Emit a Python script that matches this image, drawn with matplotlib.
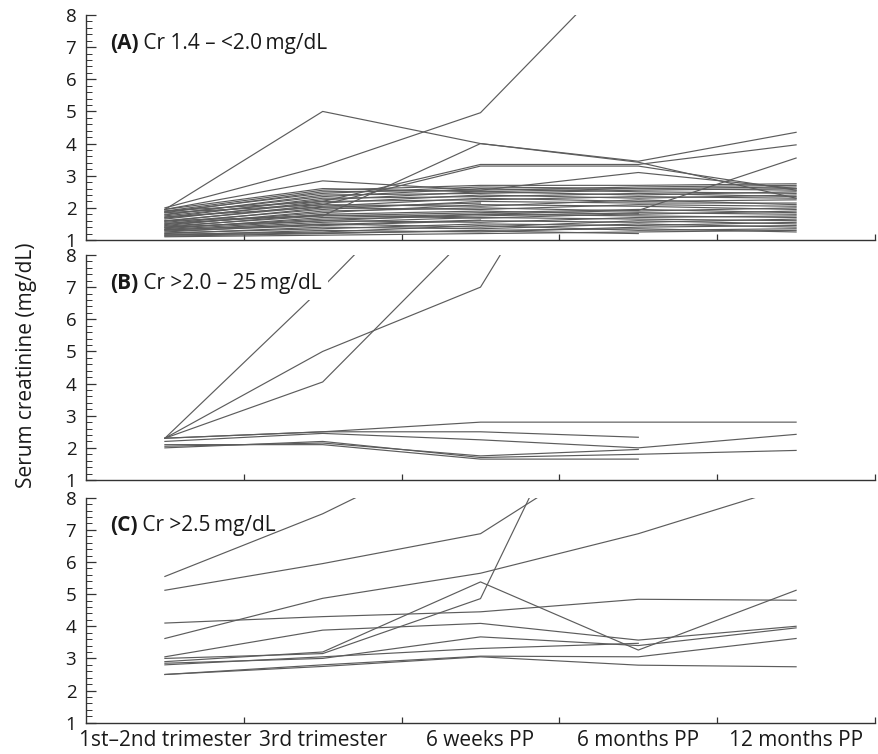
import numpy as np
import matplotlib
matplotlib.use("Agg")
import matplotlib.pyplot as plt

plt.rcParams['font.family'] = ['Open Sans', 'DejaVu Sans']

nan = np.nan
timepoints = ["1st\u20132nd trimester", "3rd trimester", "6 weeks PP", "6 months PP", "12 months PP"]

# Panel A: Cr 1.4 - <2.0 mg/dL (distinct trajectories)
panel_a_main = [
    [1.95, 5.00, 4.00, 3.45, 4.35],
    [2.00, 3.30, 4.96, 10.0, nan],
    [1.60, 1.75, 4.00, 3.42, 2.30],
    [1.90, 2.20, 3.35, 3.35, 3.96],
    [1.85, 2.10, 3.30, 3.30, 2.55],
    [1.95, 2.84, 2.55, 3.10, 2.60],
    [1.40, 1.60, 1.80, 1.92, 3.55],
]
# Panel A: dense bundle of low trajectories
panel_a_bundle = [
    [1.10, 1.15, 1.20, 1.25, 1.30],
    [1.12, 1.20, 1.30, 1.35, 1.25],
    [1.15, 1.30, 1.25, 1.40, 1.45],
    [1.18, 1.25, 1.45, 1.30, 1.35],
    [1.20, 1.40, 1.35, 1.50, 1.40],
    [1.22, 1.35, 1.50, 1.45, 1.55],
    [1.25, 1.50, 1.40, 1.60, 1.50],
    [1.28, 1.45, 1.60, 1.55, 1.65],
    [1.30, 1.55, 1.70, 1.65, 1.60],
    [1.33, 1.60, 1.55, 1.70, 1.75],
    [1.35, 1.70, 1.80, 1.75, 1.70],
    [1.38, 1.65, 1.75, 1.85, 1.80],
    [1.40, 1.80, 1.90, 1.80, 1.90],
    [1.43, 1.75, 1.85, 1.95, 1.85],
    [1.45, 1.90, 2.00, 1.90, 2.00],
    [1.48, 1.85, 2.10, 2.05, 1.95],
    [1.50, 2.00, 1.95, 2.10, 2.05],
    [1.55, 1.95, 2.20, 2.15, 2.15],
    [1.58, 2.10, 2.05, 2.25, 2.10],
    [1.60, 2.05, 2.30, 2.20, 2.25],
    [1.65, 2.20, 2.25, 2.35, 2.30],
    [1.68, 2.15, 2.40, 2.30, 2.40],
    [1.70, 2.30, 2.35, 2.45, 2.35],
    [1.75, 2.25, 2.50, 2.40, 2.50],
    [1.78, 2.40, 2.45, 2.55, 2.60],
    [1.80, 2.35, 2.60, 2.50, 2.45],
    [1.85, 2.50, 2.55, 2.65, 2.70],
    [1.88, 2.45, 2.65, 2.60, 2.55],
    [1.90, 2.55, 2.70, 2.70, 2.75],
    [1.95, 2.60, 2.50, 2.60, 2.65],
    [1.15, 1.22, 1.28, 1.20, nan],
    [1.32, 1.48, 1.62, nan, nan],
    [1.52, 1.78, 1.68, 1.82, nan],
    [1.72, 2.02, 2.15, nan, nan],
]

# Panel B: Cr >2.0 - 2.5 mg/dL
panel_b = [
    [2.30, 7.00, 12.0, nan, nan],
    [2.30, 5.00, 7.00, 15.0, nan],
    [2.30, 4.05, 9.00, nan, nan],
    [2.30, 2.50, 2.80, 2.80, 2.80],
    [2.30, 2.50, 2.50, 2.33, nan],
    [2.20, 2.45, 2.25, 2.00, 2.42],
    [2.05, 2.15, 1.75, 1.95, nan],
    [2.10, 2.10, 1.65, 1.65, nan],
    [2.00, 2.20, 1.70, 1.80, 1.92],
]

# Panel C: Cr >2.5 mg/dL
panel_c = [
    [5.55, 7.50, 9.90, nan, nan],
    [5.12, 5.95, 6.88, 10.0, nan],
    [3.62, 4.87, 5.65, 6.88, 8.40],
    [4.10, 4.30, 4.45, 4.84, 4.81],
    [2.90, 3.20, 5.38, 3.26, 5.12],
    [3.00, 3.15, 4.86, 15.0, nan],
    [3.05, 3.88, 4.09, 3.57, 4.00],
    [2.85, 3.00, 3.67, 3.40, 3.95],
    [2.80, 3.05, 3.31, 3.47, nan],
    [2.50, 2.80, 3.07, 3.05, 3.62],
    [2.50, 2.75, 3.05, 2.79, 2.74],
]

titles = [("(A)", " Cr 1.4 \u2013 <2.0\u2009mg/dL"),
          ("(B)", " Cr >2.0 \u2013 25\u2009mg/dL"),
          ("(C)", " Cr >2.5\u2009mg/dL")]

fig = plt.figure(figsize=(8.79, 7.54), dpi=100)
left, width, height = 86 / 879, 789 / 879, 225 / 754
bottoms = [(754 - 240) / 754, (754 - 480) / 754, (754 - 722.7) / 754]

x = np.arange(len(timepoints)) + 0.5
line_color = '#5c5c5c'
panels = [panel_a_main + panel_a_bundle, panel_b, panel_c]
text_color = '#1a1a1a'

for i, (data, b) in enumerate(zip(panels, bottoms)):
    ax = fig.add_axes([left, b, width, height])
    for series in data:
        ax.plot(x, series, color=line_color, lw=0.85, zorder=2)
    ax.set_xlim(0, 5)
    ax.set_ylim(1, 8)
    for s in ['top', 'right']:
        ax.spines[s].set_visible(False)
    for s in ['left', 'bottom']:
        ax.spines[s].set_color('#333333')
        ax.spines[s].set_linewidth(1.0)
    ax.set_yticks(np.arange(1, 9))
    ax.set_yticks(np.arange(1, 8.01, 0.2), minor=True)
    ax.tick_params(axis='y', which='major', direction='in', length=7, width=0.9,
                   colors='#333333', labelcolor=text_color, labelsize=13.5, pad=7)
    ax.tick_params(axis='y', which='minor', direction='in', length=4, width=0.7, colors='#333333')
    ax.set_xticks([1, 2, 3, 4, 5])
    ax.set_xticks(x, minor=True)
    ax.tick_params(axis='x', which='major', direction='in', length=4, width=0.9,
                   colors='#333333', labelbottom=False)
    if i == 2:
        ax.set_xticklabels(timepoints, minor=True)
        ax.tick_params(axis='x', which='minor', length=0, labelsize=15, pad=5,
                       labelcolor=text_color)
    else:
        ax.tick_params(axis='x', which='minor', length=0, labelbottom=False)
    t1 = ax.text(0.030, 0.875, titles[i][0], transform=ax.transAxes, fontsize=15,
                 fontweight='bold', va='center', ha='left', color=text_color, zorder=6)
    t2 = ax.annotate(titles[i][1], xy=(1, 0.5), xycoords=t1, va='center', ha='left',
                     fontsize=15, color=text_color, zorder=5)
    if i == 1:
        t2.set_bbox(dict(fc='white', ec='none', pad=5))

fig.text(0.030, 0.516, "Serum creatinine (mg/dL)", rotation=90, va='center', ha='center',
         fontsize=15, color=text_color)

fig.savefig("out.png", dpi=100)
